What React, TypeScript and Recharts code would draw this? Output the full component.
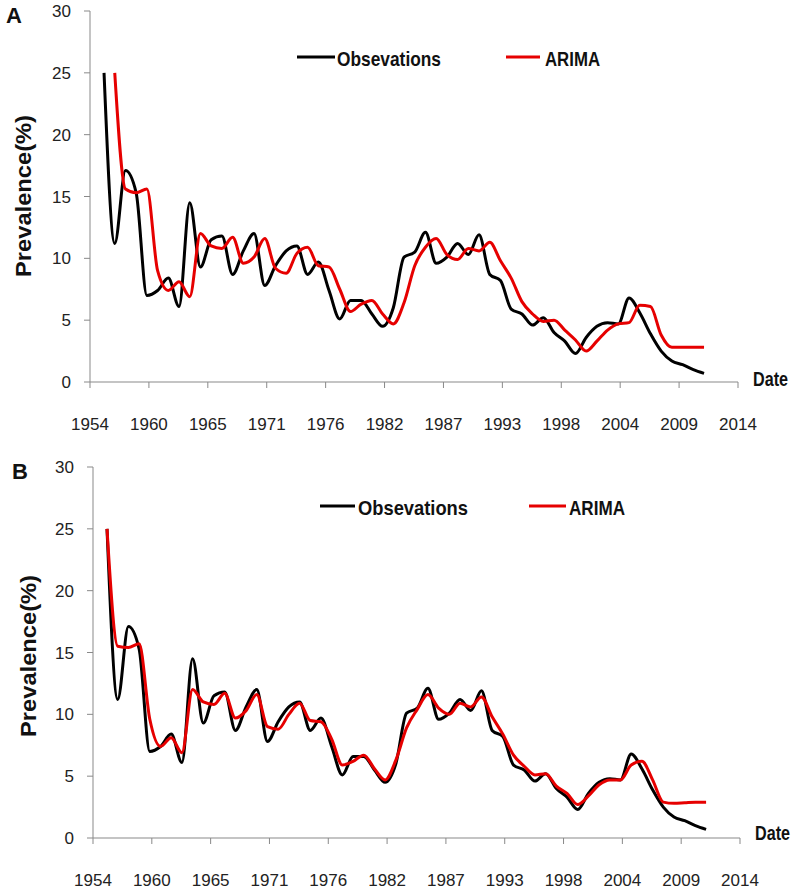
import React from "react";
import { LineChart, Line, XAxis, YAxis, Legend } from "recharts";

const years = [
  1955, 1956, 1957, 1958, 1959, 1960, 1961, 1962, 1963, 1964, 1965, 1966, 1967, 1968, 1969,
  1970, 1971, 1972, 1973, 1974, 1975, 1976, 1977, 1978, 1979, 1980, 1981, 1982, 1983, 1984,
  1985, 1986, 1987, 1988, 1989, 1990, 1991, 1992, 1993, 1994, 1995, 1996, 1997, 1998, 1999,
  2000, 2001, 2002, 2003, 2004, 2005, 2006, 2007, 2008, 2009, 2010, 2011,
];

// observed prevalence (%)
const observations = [
  25.0, 11.2, 17.1, 15.3, 7.0, 7.4, 8.4, 6.1, 14.5, 9.3, 11.5, 11.8, 8.7, 10.6, 12.0,
  7.8, 9.4, 10.6, 11.0, 8.7, 9.7, 7.4, 5.1, 6.6, 6.6, 5.5, 4.5, 6.0, 10.1, 10.5,
  12.1, 9.6, 10.1, 11.2, 10.3, 11.9, 8.7, 8.2, 5.9, 5.5, 4.6, 5.2, 4.0, 3.3, 2.3,
  3.6, 4.5, 4.8, 4.7, 6.8, 5.6, 3.9, 2.5, 1.7, 1.4, 1.0, 0.7,
];

// panel A: ARIMA fit, starts one year later
const arimaA = [
  null, 25.0, 15.6, 15.3, 15.6, 9.0, 7.4, 8.1, 6.9, 12.0, 11.0, 10.8, 11.7, 9.6, 10.1,
  11.6, 9.2, 8.8, 10.4, 10.9, 9.4, 9.3, 7.5, 5.7, 6.3, 6.6, 5.5, 4.7, 6.4, 9.4,
  10.9, 11.6, 10.3, 9.9, 10.8, 10.6, 11.3, 9.8, 8.4, 6.5, 5.5, 4.9, 5.0, 4.2, 3.4,
  2.5, 3.3, 4.2, 4.7, 4.8, 6.2, 6.1, 3.8, 2.8, 2.8, 2.8, 2.8,
];

// panel B: ARIMA fit
const arimaB = [
  25.0, 15.5, 15.4, 15.7, 9.6, 7.4, 8.1, 6.9, 12.0, 11.0, 10.8, 11.7, 9.7, 10.3, 11.6,
  9.0, 8.8, 10.0, 10.9, 9.5, 9.4, 8.0, 5.9, 6.2, 6.7, 5.6, 4.7, 6.3, 8.9, 10.4,
  11.6, 10.5, 10.0, 10.9, 10.6, 11.4, 9.8, 8.4, 6.7, 5.8, 5.1, 5.2, 4.2, 3.6, 2.7,
  3.4, 4.3, 4.7, 4.7, 5.9, 6.2, 4.7, 2.9, 2.8, 2.85, 2.9, 2.9,
];

const xTickLabels = [
  "1954", "1960", "1965", "1971", "1976", "1982", "1987", "1993", "1998", "2004", "2009", "2014",
];
const yTicks = [0, 5, 10, 15, 20, 25, 30];

const X_START = 1953.69;
const X_END = 2014.17;
const xTicks = xTickLabels.map(
  (_, i) => X_START + (i * (X_END - X_START)) / (xTickLabels.length - 1)
);

const AXIS = "#898989";
const TEXT = "#222";
const RED = "#e60000";
const FONT = "'Liberation Sans', Arial, sans-serif";

const XTick = (props: any) => {
  const { x, y, payload } = props;
  const i = xTicks.findIndex((t) => Math.abs(t - payload.value) < 1e-6);
  return (
    <text x={x} y={y + 39.5} textAnchor="middle" fontSize={17} fill={TEXT} fontFamily={FONT}>
      {xTickLabels[i]}
    </text>
  );
};

interface PanelProps {
  letter: string;
  top: number;
  arima: (number | null)[];
  margin: { top: number; right: number; bottom: number; left: number };
  yAxisWidth: number;
  legend: { top: number; obs: [number, number, number, number]; ari: [number, number, number, number] };
  letterPos: [number, number];
  yTitle: [number, number];
  datePos: [number, number];
}

const Panel: React.FC<PanelProps> = ({
  letter, top, arima, margin, yAxisWidth, legend, letterPos, yTitle, datePos,
}) => {
  const data = years.map((year, i) => ({
    year,
    obs: observations[i],
    arima: arima[i],
  }));

  const renderLegend = () => {
    const items = [
      { color: "#000", label: "Obsevations", pos: legend.obs },
      { color: RED, label: "ARIMA", pos: legend.ari },
    ];
    return (
      <svg width={798} height={30} style={{ display: "block" }}>
        {items.map((it) => (
          <g key={it.label}>
            <line x1={it.pos[0]} x2={it.pos[1]} y1={13} y2={13} stroke={it.color} strokeWidth={3} />
            <text
              x={it.pos[2]}
              y={21.5}
              fontSize={21}
              fontWeight="bold"
              fill="#111"
              fontFamily={FONT}
              textLength={it.pos[3]}
              lengthAdjust="spacingAndGlyphs"
            >
              {it.label}
            </text>
          </g>
        ))}
      </svg>
    );
  };

  return (
    <div style={{ position: "absolute", left: 0, top, width: 798, height: 444 }}>
      <LineChart width={798} height={444} data={data} margin={margin}>
        <XAxis
          dataKey="year"
          type="number"
          domain={[X_START, X_END]}
          ticks={xTicks}
          interval={0}
          height={50}
          stroke={AXIS}
          tickLine={{ stroke: AXIS }}
          tickSize={6}
          tick={<XTick />}
        />
        <YAxis
          domain={[0, 30]}
          ticks={yTicks}
          width={yAxisWidth}
          stroke={AXIS}
          tickLine={{ stroke: AXIS }}
          tickSize={6}
          tickMargin={13}
          tick={{ fill: TEXT, fontSize: 17, fontFamily: FONT }}
        />
        <Legend
          verticalAlign="middle"
          layout="horizontal"
          content={renderLegend}
          wrapperStyle={{ position: "absolute", left: 0, top: legend.top, width: 798, height: 30 }}
        />
        <Line
          type="monotone"
          dataKey="obs"
          name="Obsevations"
          stroke="#000"
          strokeWidth={3}
          dot={false}
          isAnimationActive={false}
        />
        <Line
          type="monotone"
          dataKey="arima"
          name="ARIMA"
          stroke={RED}
          strokeWidth={3}
          dot={false}
          isAnimationActive={false}
        />
      </LineChart>
      <svg
        width={798}
        height={444}
        style={{ position: "absolute", left: 0, top: 0, pointerEvents: "none" }}
      >
        <text x={letterPos[0]} y={letterPos[1]} fontSize={22} fontWeight="bold" fill="#111" fontFamily={FONT}>
          {letter}
        </text>
        <text
          x={yTitle[0]}
          y={yTitle[1]}
          transform={`rotate(-90 ${yTitle[0]} ${yTitle[1]})`}
          textAnchor="middle"
          fontSize={22}
          fontWeight="bold"
          fill="#111"
          fontFamily={FONT}
          textLength={162}
          lengthAdjust="spacingAndGlyphs"
        >
          Prevalence(%)
        </text>
        <text
          x={datePos[0]}
          y={datePos[1]}
          fontSize={20}
          fontWeight="bold"
          fill="#111"
          fontFamily={FONT}
          textLength={35}
          lengthAdjust="spacingAndGlyphs"
        >
          Date
        </text>
      </svg>
    </div>
  );
}

export default function App() {
  return (
    <div
      style={{
        position: "absolute",
        left: 0,
        top: 0,
        width: 798,
        height: 889,
        overflow: "hidden",
        background: "#fff",
        fontFamily: FONT,
      }}
    >
      <Panel
        letter="A"
        top={0}
        arima={arimaA}
        margin={{ top: 11, right: 60, bottom: 12, left: 0 }}
        yAxisWidth={90}
        legend={{ top: 44, obs: [297, 335, 337, 104], ari: [506, 540, 545, 55] }}
        letterPos={[6, 23]}
        yTitle={[31, 196]}
        datePos={[753, 386]}
      />
      <Panel
        letter="B"
        top={445}
        arima={arimaB}
        margin={{ top: 22, right: 58, bottom: 1, left: 0 }}
        yAxisWidth={93}
        legend={{ top: 48, obs: [320, 355, 358, 110], ari: [529, 566, 569, 56] }}
        letterPos={[12, 34]}
        yTitle={[36, 211]}
        datePos={[755, 395]}
      />
    </div>
  );
}
